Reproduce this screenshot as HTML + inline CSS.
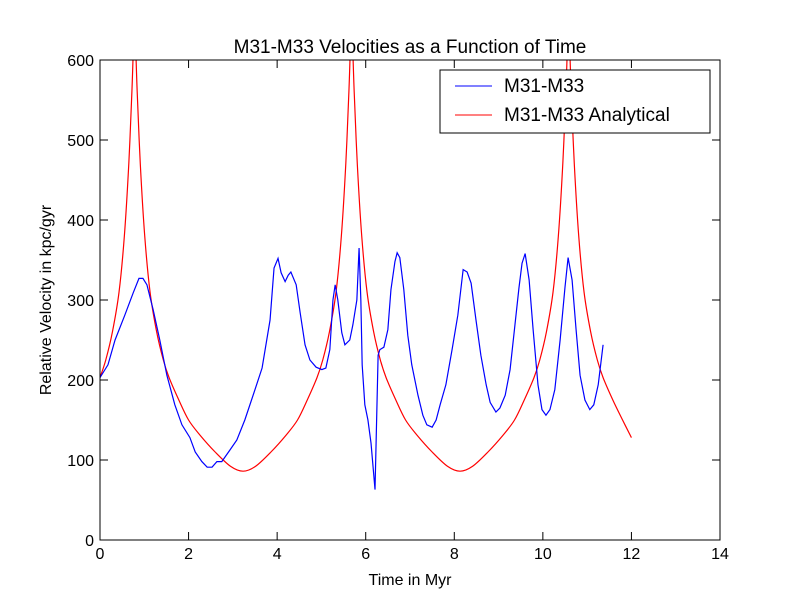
<!DOCTYPE html>
<html><head><meta charset="utf-8"><style>
body{margin:0;background:#fff;}
svg text{font-family:"Liberation Sans",sans-serif;fill:#000;}
</style></head><body>
<svg id="chart" width="800" height="600">
<rect width="800" height="600" fill="#fff"/>
<defs><clipPath id="pa"><rect x="100" y="60" width="620" height="480"/></clipPath></defs>
<g id="series" clip-path="url(#pa)"></g>
<rect x="100" y="60" width="620" height="480" fill="none" stroke="#000" stroke-width="1"/>
<g id="axes"></g>
<text x="410" y="53" font-size="19" text-anchor="middle">M31-M33 Velocities as a Function of Time</text>
<text x="410" y="585" font-size="16" text-anchor="middle">Time in Myr</text>
<text transform="translate(51,300) rotate(-90)" font-size="16" text-anchor="middle">Relative Velocity in kpc/gyr</text>
<g>
<rect x="440" y="70" width="270" height="63" fill="#fff" stroke="#000"/>
<line x1="455" y1="86" x2="492" y2="86" stroke="#0000ff"/>
<text x="504" y="92" font-size="19">M31-M33</text>
<line x1="455" y1="115" x2="492" y2="115" stroke="#ff0000"/>
<text x="504" y="121" font-size="19">M31-M33 Analytical</text>
</g>
</svg>
<script>
const xTicks=[0,2,4,6,8,10,12,14];
const yTicks=[0,100,200,300,400,500,600];
const blueT=[0,0.18,0.34,0.56,0.75,0.88,0.97,1.06,1.2,1.35,1.51,1.69,1.85,2.03,2.15,2.3,2.42,2.53,2.64,2.75,2.94,3.09,3.27,3.5,3.66,3.84,3.93,4.02,4.09,4.18,4.25,4.31,4.43,4.52,4.63,4.74,4.88,5.01,5.1,5.19,5.26,5.31,5.37,5.46,5.53,5.64,5.71,5.8,5.85,5.89,5.92,5.98,6.05,6.12,6.21,6.28,6.32,6.41,6.5,6.57,6.66,6.71,6.77,6.86,6.95,7.04,7.18,7.29,7.38,7.5,7.59,7.68,7.81,7.95,8.08,8.2,8.29,8.38,8.49,8.6,8.72,8.81,8.94,9.03,9.15,9.26,9.37,9.46,9.53,9.6,9.69,9.78,9.89,9.98,10.07,10.16,10.27,10.39,10.5,10.57,10.66,10.75,10.84,10.95,11.06,11.15,11.25,11.36];
const blueV=[203,219,250,281,309,327,327,319,288,250,206,169,144,128,110,98,91,91,98,98,113,125,150,188,215,275,340,352,334,323,331,335,319,284,244,225,216,213,215,238,300,319,300,259,244,250,269,300,365,300,219,169,150,121,63,231,238,241,263,313,348,359,353,313,256,219,181,156,144,141,150,169,194,238,281,338,335,321,275,231,194,172,160,165,181,213,269,315,346,358,325,263,194,163,156,163,188,250,316,353,325,263,206,175,163,169,194,244];
const redT=[0,0.13,0.28,0.43,0.55,0.65,0.72,0.78,0.84,0.91,1.01,1.13,1.28,1.43,1.56,1.78,2.0,2.26,2.6,2.95,3.23,3.51,3.86,4.2,4.46,4.68,4.9,5.03,5.18,5.33,5.45,5.55,5.62,5.68,5.74,5.81,5.91,6.03,6.18,6.33,6.46,6.68,6.9,7.16,7.5,7.85,8.13,8.41,8.76,9.1,9.36,9.58,9.8,9.93,10.08,10.23,10.35,10.45,10.52,10.58,10.64,10.71,10.81,10.93,11.08,11.23,11.36,11.58,11.8,12.0];
const redV=[203,225,260,310,380,470,560,640,560,470,380,310,260,225,203,175,150,131,110,92,86,92,110,131,150,175,203,225,260,310,380,470,560,640,560,470,380,310,260,225,203,175,150,131,110,92,86,92,110,131,150,175,203,225,260,310,380,470,560,640,560,470,380,310,260,225,203,175,150,128];
const X=t=>100+t*620/14, Y=v=>540-v*480/600;
const NS="http://www.w3.org/2000/svg";
const ax=document.getElementById('axes');
function mk(tag,attrs,parent){const e=document.createElementNS(NS,tag);for(const k in attrs)e.setAttribute(k,attrs[k]);parent.appendChild(e);return e;}
xTicks.forEach(t=>{
  const x=X(t);
  let l=mk('line',{x1:x,y1:540,x2:x,y2:532,stroke:'#000'},ax);
  
  
  let l2=mk('line',{x1:x,y1:60,x2:x,y2:68,stroke:'#000'},ax);
  
  
  let tx=mk('text',{x:x,y:559,'font-size':16,'text-anchor':'middle'},ax);tx.textContent=t;
  
  
});
yTicks.forEach(v=>{
  const y=Y(v);
  let l=mk('line',{x1:100,y1:y,x2:108,y2:y,stroke:'#000'},ax);
  
  
  let l2=mk('line',{x1:712,y1:y,x2:720,y2:y,stroke:'#000'},ax);
  
  
  let tx=mk('text',{x:94,y:y+6,'font-size':16,'text-anchor':'end'},ax);tx.textContent=v;
  
  
});
function smoothPath(ts,vs){
  const p=ts.map((t,i)=>[X(t),Y(vs[i])]);
  let d='M'+p[0][0]+','+p[0][1];
  for(let i=0;i<p.length-1;i++){
    const p0=p[Math.max(0,i-1)],p1=p[i],p2=p[i+1],p3=p[Math.min(p.length-1,i+2)];
    const c1x=p1[0]+(p2[0]-p0[0])/6,c1y=p1[1]+(p2[1]-p0[1])/6;
    const c2x=p2[0]-(p3[0]-p1[0])/6,c2y=p2[1]-(p3[1]-p1[1])/6;
    d+=' C'+c1x+','+c1y+' '+c2x+','+c2y+' '+p2[0]+','+p2[1];
  }
  return d;
}
const sg=document.getElementById('series');
const rp=mk('path',{d:smoothPath(redT,redV),fill:'none',stroke:'#ff0000','stroke-width':1.2},sg);


const bp=mk('polyline',{points:blueT.map((t,i)=>X(t)+','+Y(blueV[i])).join(' '),fill:'none',stroke:'#0000ff','stroke-width':1.2},sg);


</script>
</body></html>
